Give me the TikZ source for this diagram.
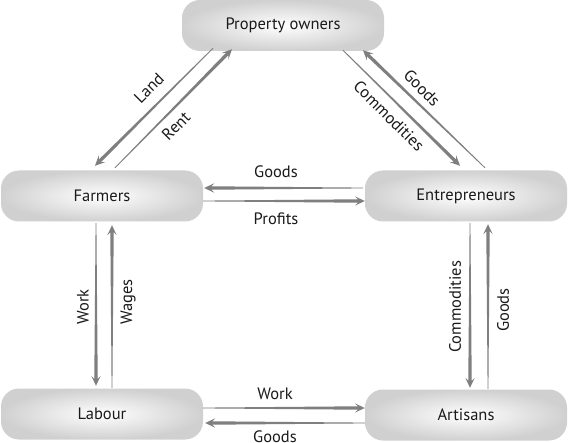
\documentclass[tikz,border=0pt]{standalone}
\usepackage{fontspec}
\setmainfont{PT Sans}
\usetikzlibrary{calc}
\definecolor{arrowgray}{HTML}{7F7F7F}
\definecolor{boxedge}{HTML}{D0D0D0}
\definecolor{txt}{HTML}{1A1A1A}
\tikzset{
  box/.style={rounded corners=18pt, minimum width=202pt, minimum height=51pt,
    inner sep=0pt, shade, inner color=white, outer color=boxedge,
    font=\fontsize{16.5}{18}\selectfont, text=txt},
  lbl/.style={font=\fontsize{16.5}{18}\selectfont, text=txt, inner sep=1pt},
}
\newcommand\tarrow[2]{%
  \fill[arrowgray] let \p1=(#1), \p2=(#2), \n1={atan2(\y2-\y1,\x2-\x1)} in
    ($(#1)+(\n1+90:0.4pt)$) -- ($(#2)+(\n1:-7pt)+(\n1+90:1.7pt)$)
    -- ($(#2)+(\n1:-10pt)+(\n1+90:4.7pt)$) -- (#2)
    -- ($(#2)+(\n1:-10pt)+(\n1-90:4.7pt)$) -- ($(#2)+(\n1:-7pt)+(\n1-90:1.7pt)$)
    -- ($(#1)+(\n1-90:0.4pt)$) -- cycle;}
\begin{document}
\begin{tikzpicture}[x=1pt,y=-1pt]
\useasboundingbox (0,0) rectangle (569,443);
\fill[white] (0,0) rectangle (569,443);
% nodes
\node[box] (po) at (283,25.5) {Property owners};
\node[box] (fa) at (102,196) {Farmers};
\node[box] (en) at (466,196) {Entrepreneurs};
\node[box] (la) at (102,414) {Labour};
\node[box] (ar) at (466,415) {Artisans};
% connector end points
\coordinate (landS) at ($(po.south)+(-70,-3)$);
\coordinate (landT) at ($(fa.north)+(-7,-4.5)$);
\coordinate (rentS) at ($(fa.north)+(13,-2.5)$);
\coordinate (rentT) at ($(po.south)+(-51,-2)$);
\coordinate (comS) at ($(po.south)+(60,-1)$);
\coordinate (comT) at ($(en.north)+(-6,-4.5)$);
\coordinate (gdS) at ($(en.north)+(19,-2.5)$);
\coordinate (gdT) at ($(po.south)+(80,-1)$);
\coordinate (ghS) at ($(en.west)+(-2,-8)$);
\coordinate (ghT) at ($(fa.east)+(1,-8)$);
\coordinate (prS) at ($(fa.east)+(0,5)$);
\coordinate (prT) at ($(en.west)+(0,5)$);
\coordinate (wlS) at ($(fa.south)+(-6,1.5)$);
\coordinate (wlT) at ($(la.north)+(-6,-2.5)$);
\coordinate (wgS) at ($(la.north)+(10,-0.5)$);
\coordinate (wgT) at ($(fa.south)+(10,3.5)$);
\coordinate (crS) at ($(en.south)+(4,1.5)$);
\coordinate (crT) at ($(ar.north)+(4,-1.5)$);
\coordinate (grS) at ($(ar.north)+(22,-0.5)$);
\coordinate (grT) at ($(en.south)+(22,2.5)$);
\coordinate (wbS) at ($(la.east)+(0,-6)$);
\coordinate (wbT) at ($(ar.west)+(0,-7)$);
\coordinate (gbS) at ($(ar.west)+(0,8)$);
\coordinate (gbT) at ($(la.east)+(2,9)$);
% connectors
\tarrow{landS}{landT}
\tarrow{rentS}{rentT}
\tarrow{comS}{comT}
\tarrow{gdS}{gdT}
\tarrow{ghS}{ghT}
\tarrow{prS}{prT}
\tarrow{wlS}{wlT}
\tarrow{wgS}{wgT}
\tarrow{crS}{crT}
\tarrow{grS}{grT}
\tarrow{wbS}{wbT}
\tarrow{gbS}{gbT}
% labels
\node[lbl, rotate=45] (lLand) at (149,88) {Land};
\node[lbl, rotate=45] (lRent) at (176,126) {Rent};
\node[lbl, rotate=-45] (lCom) at (389,116) {Commodities};
\node[lbl, rotate=-45] (lGd) at (422,88) {Goods};
\node[lbl] (lGh) at (276,172) {Goods};
\node[lbl] (lPr) at (276,219) {Profits};
\node[lbl, rotate=90] (lWl) at (83,307) {Work};
\node[lbl, rotate=90] (lWg) at (128,302) {Wages};
\node[lbl, rotate=90] (lCr) at (455,307) {Commodities};
\node[lbl, rotate=90] (lGr) at (503,310) {Goods};
\node[lbl] (lWb) at (275,394) {Work};
\node[lbl] (lGb) at (275,437) {Goods};
\end{tikzpicture}
\end{document}
